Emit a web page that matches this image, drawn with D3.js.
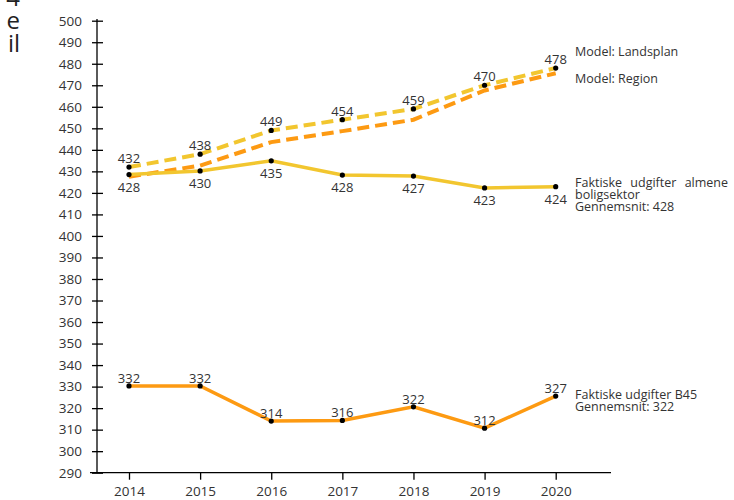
<!DOCTYPE html>
<html>
<head>
<meta charset="utf-8">
<script src="https://cdn.jsdelivr.net/npm/d3@7"></script>
<style>
  body { margin: 0; background: #fff; }
  text { font-family: "Open Sans", sans-serif; fill: #333; }
</style>
</head>
<body>
<div id="chartHolder"></div>
<script>
// data
const years = [2014, 2015, 2016, 2017, 2018, 2019, 2020];
const landsplan = [432, 438, 449, 454, 459, 470, 478];
const region = [427.5, 432.7, 443.6, 448.7, 454, 467.6, 475.6];
const almene = [428.5, 430.2, 434.9, 428.3, 427.8, 422.3, 422.9];
const almeneLabels = ["428", "430", "435", "428", "427", "423", "424"];
const b45 = [330.3, 330.3, 314, 314.3, 320.6, 310.7, 325.6];
const b45Labels = ["332", "332", "314", "316", "322", "312", "327"];
const yTicks = d3.range(290, 501, 10);

const width = 734;
const height = 500;
const svg = d3.select("#chartHolder")
  .append("svg")
  .attr("width", width)
  .attr("height", height);

const xScale = d3.scaleLinear().domain([2014, 2020]).range([129, 555.7]);
const yScale = d3.scaleLinear().domain([290, 500]).range([472.7, 20.7]);

// cropped heading on the left edge
svg.selectAll(".crop")
  .data(["4", "e", "il"])
  .enter()
  .append("text")
  .attr("x", 20)
  .attr("y", (d, i) => 6 + i * 23)
  .attr("text-anchor", "end")
  .style("font-size", "24px")
  .style("fill", "#222")
  .text(d => d);

// y axis
const yAxis = d3.axisLeft(yScale).tickValues(yTicks).tickSizeInner(-6).tickSizeOuter(0).tickPadding(0);
const gy = svg.append("g").attr("transform", "translate(97,0)").call(yAxis);
gy.select(".domain").attr("stroke", "#000").attr("stroke-width", 1.3).attr("d", "M0,19V473");
gy.selectAll(".tick line").attr("x1", -5).attr("x2", 6).attr("stroke", "#000").attr("stroke-width", 1.3);
gy.selectAll(".tick text").attr("x", -15).style("font-size", "13.5px").style("font-family", "Open Sans").attr("fill", "#333");

// x axis
const xAxis = d3.axisBottom(xScale).tickValues(years).tickFormat(d3.format("d")).tickSize(7).tickSizeOuter(0).tickPadding(7);
const gx = svg.append("g").attr("transform", "translate(0,472.7)").call(xAxis);
gx.select(".domain").attr("stroke", "#000").attr("stroke-width", 1.3).attr("d", "M90,0H611");
gx.selectAll(".tick line").attr("stroke", "#000").attr("stroke-width", 1.3);
gx.selectAll(".tick text").style("font-size", "13.5px").style("font-family", "Open Sans").attr("fill", "#333");

const line = d3.line().x((d, i) => xScale(years[i])).y(d => yScale(d));
const yellow = "#f2c62f";
const orange = "#fd9a12";

svg.append("path").attr("d", line(landsplan)).attr("fill", "none")
  .attr("stroke", yellow).attr("stroke-width", 4).attr("stroke-dasharray", "12,6");
svg.append("path").attr("d", line(region)).attr("fill", "none")
  .attr("stroke", orange).attr("stroke-width", 4).attr("stroke-dasharray", "12,6");
svg.append("path").attr("d", line(almene)).attr("fill", "none")
  .attr("stroke", yellow).attr("stroke-width", 3.5);
svg.append("path").attr("d", line(b45)).attr("fill", "none")
  .attr("stroke", orange).attr("stroke-width", 3.5);

// dots
[landsplan, almene, b45].forEach(series => {
  svg.selectAll(null)
    .data(series)
    .enter()
    .append("circle")
    .attr("cx", (d, i) => xScale(years[i]))
    .attr("cy", d => yScale(d))
    .attr("r", 2.6)
    .attr("fill", "#000");
});

// data labels
svg.selectAll(null).data(landsplan).enter().append("text")
  .attr("x", (d, i) => xScale(years[i]))
  .attr("y", d => yScale(d) - 4)
  .attr("text-anchor", "middle").style("font-size", "13px")
  .text(d => d);
svg.selectAll(null).data(almene).enter().append("text")
  .attr("x", (d, i) => xScale(years[i]))
  .attr("y", d => yScale(d) + 17)
  .attr("text-anchor", "middle").style("font-size", "13px")
  .text((d, i) => almeneLabels[i]);
svg.selectAll(null).data(b45).enter().append("text")
  .attr("x", (d, i) => xScale(years[i]))
  .attr("y", d => yScale(d) - 3)
  .attr("text-anchor", "middle").style("font-size", "13px")
  .text((d, i) => b45Labels[i]);

// series names
const names = [
  { lines: ["Model: Landsplan"], y: 56 },
  { lines: ["Model: Region"], y: 83 },
  { lines: ["Faktiske udgifter almene", "boligsektor", "Gennemsnit: 428"], y: 187 },
  { lines: ["Faktiske udgifter B45", "Gennemsnit: 322"], y: 399 }
];
names.forEach(n => {
  n.lines.forEach((t, i) => {
    svg.append("text")
      .attr("x", 575)
      .attr("y", n.y + i * 12)
      .style("font-size", "12.5px")
      .style("word-spacing", i === 0 && n.lines.length === 3 ? "5px" : "0px")
      .text(t);
  });
});
</script>
</body>
</html>
